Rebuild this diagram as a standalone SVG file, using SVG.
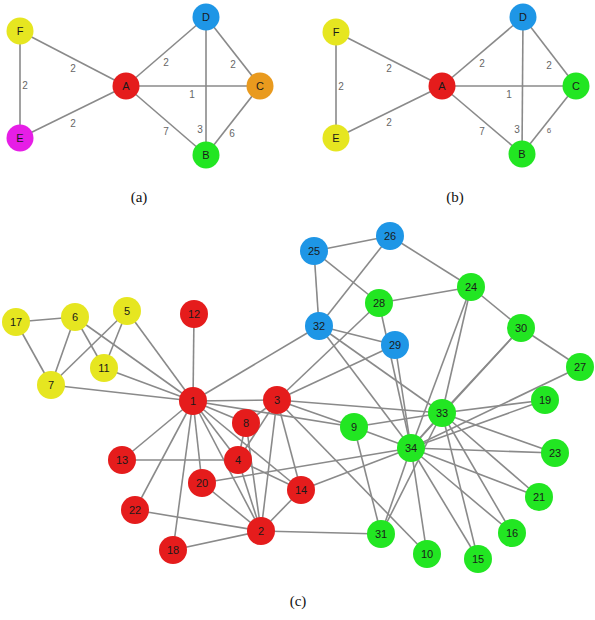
<svg xmlns="http://www.w3.org/2000/svg" width="595" height="620" viewBox="0 0 595 620">
<style>
.e line{stroke:#8a8a8a;stroke-width:1.6;}
.n text{font-family:"Liberation Sans",Arial,sans-serif;font-size:11px;fill:#1a1a1a;text-anchor:middle;dominant-baseline:central;}
.w{font-family:"Liberation Sans",Arial,sans-serif;font-size:10px;fill:#666;text-anchor:middle;dominant-baseline:central;}
.cap{font-family:"Liberation Serif","Times New Roman",serif;font-size:15px;fill:#111;text-anchor:middle;}
.r{fill:#e51c1c;}.y{fill:#e6e620;}.b{fill:#1e96e6;}.g{fill:#22e622;}.o{fill:#e99a1e;}.m{fill:#e61ee6;}
</style>
<rect width="595" height="620" fill="#fff"/>

<!-- (a) -->
<g id="a-edges" class="e">
<line x1="20" y1="31" x2="126" y2="86"/>
<line x1="20" y1="31" x2="20" y2="138"/>
<line x1="20" y1="138" x2="126" y2="86"/>
<line x1="126" y1="86" x2="206" y2="17"/>
<line x1="126" y1="86" x2="260" y2="86"/>
<line x1="126" y1="86" x2="206" y2="155"/>
<line x1="206" y1="17" x2="260" y2="86"/>
<line x1="206" y1="17" x2="206" y2="155"/>
<line x1="260" y1="86" x2="206" y2="155"/>
</g>
<g id="a-labels">
<text class="w" x="73" y="68">2</text>
<text class="w" x="25" y="85">2</text>
<text class="w" x="73" y="123">2</text>
<text class="w" x="166" y="62">2</text>
<text class="w" x="233" y="64">2</text>
<text class="w" x="192" y="94">1</text>
<text class="w" x="166" y="131">7</text>
<text class="w" x="200" y="129">3</text>
<text class="w" x="232" y="133">6</text>
</g>
<g id="a-F" class="n"><circle class="y" cx="20" cy="31" r="13.5"/><text x="20" y="31">F</text></g>
<g id="a-D" class="n"><circle class="b" cx="206" cy="17" r="13.5"/><text x="206" y="17">D</text></g>
<g id="a-A" class="n"><circle class="r" cx="126" cy="86" r="13.5"/><text x="126" y="86">A</text></g>
<g id="a-C" class="n"><circle class="o" cx="260" cy="86" r="13.5"/><text x="260" y="86">C</text></g>
<g id="a-E" class="n"><circle class="m" cx="20" cy="138" r="13.5"/><text x="20" y="138">E</text></g>
<g id="a-B" class="n"><circle class="g" cx="206" cy="155" r="13.5"/><text x="206" y="155">B</text></g>
<text class="cap" x="139" y="202">(a)</text>

<!-- (b) -->
<g id="b-edges" class="e">
<line x1="336" y1="32" x2="442" y2="86"/>
<line x1="336" y1="32" x2="336" y2="138"/>
<line x1="336" y1="138" x2="442" y2="86"/>
<line x1="442" y1="86" x2="523" y2="17"/>
<line x1="442" y1="86" x2="576" y2="86"/>
<line x1="442" y1="86" x2="522" y2="154"/>
<line x1="523" y1="17" x2="576" y2="86"/>
<line x1="523" y1="17" x2="522" y2="154"/>
<line x1="576" y1="86" x2="522" y2="154"/>
</g>
<g id="b-labels">
<text class="w" x="389" y="68">2</text>
<text class="w" x="341" y="86">2</text>
<text class="w" x="389" y="122">2</text>
<text class="w" x="482" y="63">2</text>
<text class="w" x="549" y="65">2</text>
<text class="w" x="509" y="94">1</text>
<text class="w" x="482" y="131">7</text>
<text class="w" x="517" y="129">3</text>
<text class="w" x="549" y="130" style="font-size:8px">6</text>
</g>
<g id="b-F" class="n"><circle class="y" cx="336" cy="32" r="13.5"/><text x="336" y="32">F</text></g>
<g id="b-D" class="n"><circle class="b" cx="523" cy="17" r="13.5"/><text x="523" y="17">D</text></g>
<g id="b-A" class="n"><circle class="r" cx="442" cy="86" r="13.5"/><text x="442" y="86">A</text></g>
<g id="b-C" class="n"><circle class="g" cx="576" cy="86" r="13.5"/><text x="576" y="86">C</text></g>
<g id="b-E" class="n"><circle class="y" cx="336" cy="138" r="13.5"/><text x="336" y="138">E</text></g>
<g id="b-B" class="n"><circle class="g" cx="522" cy="154" r="13.5"/><text x="522" y="154">B</text></g>
<text class="cap" x="455" y="202">(b)</text>

<!-- (c) -->
<g id="c-edges" class="e">
<line x1="193" y1="401" x2="261" y2="531"/>
<line x1="193" y1="401" x2="277" y2="400"/>
<line x1="193" y1="401" x2="238" y2="460"/>
<line x1="193" y1="401" x2="127" y2="311"/>
<line x1="193" y1="401" x2="75" y2="317"/>
<line x1="193" y1="401" x2="51" y2="385"/>
<line x1="193" y1="401" x2="246" y2="423"/>
<line x1="193" y1="401" x2="354" y2="427"/>
<line x1="193" y1="401" x2="104" y2="368"/>
<line x1="193" y1="401" x2="194" y2="314"/>
<line x1="193" y1="401" x2="122" y2="460"/>
<line x1="193" y1="401" x2="301" y2="490"/>
<line x1="193" y1="401" x2="173" y2="550"/>
<line x1="193" y1="401" x2="202" y2="483"/>
<line x1="193" y1="401" x2="135" y2="510"/>
<line x1="193" y1="401" x2="319" y2="326"/>
<line x1="261" y1="531" x2="277" y2="400"/>
<line x1="261" y1="531" x2="238" y2="460"/>
<line x1="261" y1="531" x2="246" y2="423"/>
<line x1="261" y1="531" x2="301" y2="490"/>
<line x1="261" y1="531" x2="173" y2="550"/>
<line x1="261" y1="531" x2="202" y2="483"/>
<line x1="261" y1="531" x2="135" y2="510"/>
<line x1="261" y1="531" x2="381" y2="534"/>
<line x1="277" y1="400" x2="238" y2="460"/>
<line x1="277" y1="400" x2="246" y2="423"/>
<line x1="277" y1="400" x2="354" y2="427"/>
<line x1="277" y1="400" x2="427" y2="554"/>
<line x1="277" y1="400" x2="301" y2="490"/>
<line x1="277" y1="400" x2="379" y2="303"/>
<line x1="277" y1="400" x2="395" y2="345"/>
<line x1="277" y1="400" x2="442" y2="413"/>
<line x1="238" y1="460" x2="246" y2="423"/>
<line x1="238" y1="460" x2="122" y2="460"/>
<line x1="238" y1="460" x2="301" y2="490"/>
<line x1="127" y1="311" x2="51" y2="385"/>
<line x1="127" y1="311" x2="104" y2="368"/>
<line x1="75" y1="317" x2="51" y2="385"/>
<line x1="75" y1="317" x2="104" y2="368"/>
<line x1="75" y1="317" x2="16" y2="322"/>
<line x1="51" y1="385" x2="16" y2="322"/>
<line x1="354" y1="427" x2="381" y2="534"/>
<line x1="354" y1="427" x2="442" y2="413"/>
<line x1="354" y1="427" x2="411" y2="448"/>
<line x1="427" y1="554" x2="411" y2="448"/>
<line x1="301" y1="490" x2="411" y2="448"/>
<line x1="478" y1="559" x2="442" y2="413"/>
<line x1="478" y1="559" x2="411" y2="448"/>
<line x1="512" y1="533" x2="442" y2="413"/>
<line x1="512" y1="533" x2="411" y2="448"/>
<line x1="545" y1="400" x2="442" y2="413"/>
<line x1="545" y1="400" x2="411" y2="448"/>
<line x1="202" y1="483" x2="411" y2="448"/>
<line x1="539" y1="497" x2="442" y2="413"/>
<line x1="539" y1="497" x2="411" y2="448"/>
<line x1="555" y1="453" x2="442" y2="413"/>
<line x1="555" y1="453" x2="411" y2="448"/>
<line x1="471" y1="287" x2="390" y2="236"/>
<line x1="471" y1="287" x2="379" y2="303"/>
<line x1="471" y1="287" x2="521" y2="328"/>
<line x1="471" y1="287" x2="442" y2="413"/>
<line x1="471" y1="287" x2="411" y2="448"/>
<line x1="314" y1="251" x2="390" y2="236"/>
<line x1="314" y1="251" x2="379" y2="303"/>
<line x1="314" y1="251" x2="319" y2="326"/>
<line x1="390" y1="236" x2="319" y2="326"/>
<line x1="580" y1="367" x2="521" y2="328"/>
<line x1="580" y1="367" x2="411" y2="448"/>
<line x1="379" y1="303" x2="411" y2="448"/>
<line x1="395" y1="345" x2="319" y2="326"/>
<line x1="395" y1="345" x2="411" y2="448"/>
<line x1="521" y1="328" x2="442" y2="413"/>
<line x1="521" y1="328" x2="411" y2="448"/>
<line x1="381" y1="534" x2="442" y2="413"/>
<line x1="381" y1="534" x2="411" y2="448"/>
<line x1="319" y1="326" x2="442" y2="413"/>
<line x1="319" y1="326" x2="411" y2="448"/>
<line x1="442" y1="413" x2="411" y2="448"/>
</g>
<g id="n1" class="n"><circle class="r" cx="193" cy="401" r="14"/><text x="193" y="401">1</text></g>
<g id="n2" class="n"><circle class="r" cx="261" cy="531" r="14"/><text x="261" y="531">2</text></g>
<g id="n3" class="n"><circle class="r" cx="277" cy="400" r="14"/><text x="277" y="400">3</text></g>
<g id="n4" class="n"><circle class="r" cx="238" cy="460" r="14"/><text x="238" y="460">4</text></g>
<g id="n5" class="n"><circle class="y" cx="127" cy="311" r="14"/><text x="127" y="311">5</text></g>
<g id="n6" class="n"><circle class="y" cx="75" cy="317" r="14"/><text x="75" y="317">6</text></g>
<g id="n7" class="n"><circle class="y" cx="51" cy="385" r="14"/><text x="51" y="385">7</text></g>
<g id="n8" class="n"><circle class="r" cx="246" cy="423" r="14"/><text x="246" y="423">8</text></g>
<g id="n9" class="n"><circle class="g" cx="354" cy="427" r="14"/><text x="354" y="427">9</text></g>
<g id="n10" class="n"><circle class="g" cx="427" cy="554" r="14"/><text x="427" y="554">10</text></g>
<g id="n11" class="n"><circle class="y" cx="104" cy="368" r="14"/><text x="104" y="368">11</text></g>
<g id="n12" class="n"><circle class="r" cx="194" cy="314" r="14"/><text x="194" y="314">12</text></g>
<g id="n13" class="n"><circle class="r" cx="122" cy="460" r="14"/><text x="122" y="460">13</text></g>
<g id="n14" class="n"><circle class="r" cx="301" cy="490" r="14"/><text x="301" y="490">14</text></g>
<g id="n15" class="n"><circle class="g" cx="478" cy="559" r="14"/><text x="478" y="559">15</text></g>
<g id="n16" class="n"><circle class="g" cx="512" cy="533" r="14"/><text x="512" y="533">16</text></g>
<g id="n17" class="n"><circle class="y" cx="16" cy="322" r="14"/><text x="16" y="322">17</text></g>
<g id="n18" class="n"><circle class="r" cx="173" cy="550" r="14"/><text x="173" y="550">18</text></g>
<g id="n19" class="n"><circle class="g" cx="545" cy="400" r="14"/><text x="545" y="400">19</text></g>
<g id="n20" class="n"><circle class="r" cx="202" cy="483" r="14"/><text x="202" y="483">20</text></g>
<g id="n21" class="n"><circle class="g" cx="539" cy="497" r="14"/><text x="539" y="497">21</text></g>
<g id="n22" class="n"><circle class="r" cx="135" cy="510" r="14"/><text x="135" y="510">22</text></g>
<g id="n23" class="n"><circle class="g" cx="555" cy="453" r="14"/><text x="555" y="453">23</text></g>
<g id="n24" class="n"><circle class="g" cx="471" cy="287" r="14"/><text x="471" y="287">24</text></g>
<g id="n25" class="n"><circle class="b" cx="314" cy="251" r="14"/><text x="314" y="251">25</text></g>
<g id="n26" class="n"><circle class="b" cx="390" cy="236" r="14"/><text x="390" y="236">26</text></g>
<g id="n27" class="n"><circle class="g" cx="580" cy="367" r="14"/><text x="580" y="367">27</text></g>
<g id="n28" class="n"><circle class="g" cx="379" cy="303" r="14"/><text x="379" y="303">28</text></g>
<g id="n29" class="n"><circle class="b" cx="395" cy="345" r="14"/><text x="395" y="345">29</text></g>
<g id="n30" class="n"><circle class="g" cx="521" cy="328" r="14"/><text x="521" y="328">30</text></g>
<g id="n31" class="n"><circle class="g" cx="381" cy="534" r="14"/><text x="381" y="534">31</text></g>
<g id="n32" class="n"><circle class="b" cx="319" cy="326" r="14"/><text x="319" y="326">32</text></g>
<g id="n33" class="n"><circle class="g" cx="442" cy="413" r="14"/><text x="442" y="413">33</text></g>
<g id="n34" class="n"><circle class="g" cx="411" cy="448" r="14"/><text x="411" y="448">34</text></g>
<text class="cap" x="298" y="606">(c)</text>
</svg>
